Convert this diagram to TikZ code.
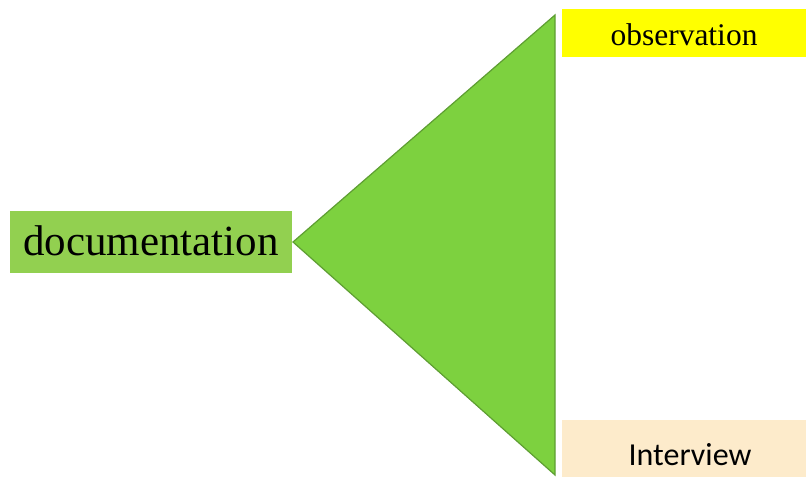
\documentclass[tikz,border=0pt]{standalone}
\usepackage{fontspec}
\setmainfont{Liberation Serif}
\newfontfamily\calibrilike{Carlito}
\definecolor{docgreen}{HTML}{92D050}
\definecolor{trifill}{HTML}{7DD13F}
\definecolor{triedge}{HTML}{5E9E32}
\definecolor{obsyellow}{HTML}{FFFF00}
\definecolor{intpeach}{HTML}{FDEBCB}
\begin{document}
\begin{tikzpicture}[x=1pt,y=-1pt,
  labelbox/.style={draw=none,inner sep=0pt,anchor=north west,text=black}]
\useasboundingbox (0,0) rectangle (806,477);
% funnel
\coordinate (apex) at (293,242);
\coordinate (topc) at (555,15);
\coordinate (botc) at (555,475);
\filldraw[fill=trifill,draw=triedge,line width=1.2pt,line join=miter] (apex) -- (topc) -- (botc) -- cycle;
% boxes
\node[labelbox,fill=docgreen,minimum width=282pt,minimum height=62pt] (doc) at (10,211) {};
\node[labelbox,fill=obsyellow,minimum width=244pt,minimum height=48pt] (obs) at (562,9) {};
\node[labelbox,fill=intpeach,minimum width=244pt,minimum height=57pt] (int) at (562,420) {};
% labels
\node[anchor=base,inner sep=0pt,font=\fontsize{43}{45}\selectfont] (doclbl) at (151,255) {documentation};
\node[anchor=base,inner sep=0pt,font=\fontsize{31.5}{33}\selectfont] (obslbl) at (684,45) {observation};
\node[anchor=base,inner sep=0pt,font=\calibrilike\fontsize{32}{34}\selectfont] (intlbl) at (690,465) {Interview};
\end{tikzpicture}
\end{document}
